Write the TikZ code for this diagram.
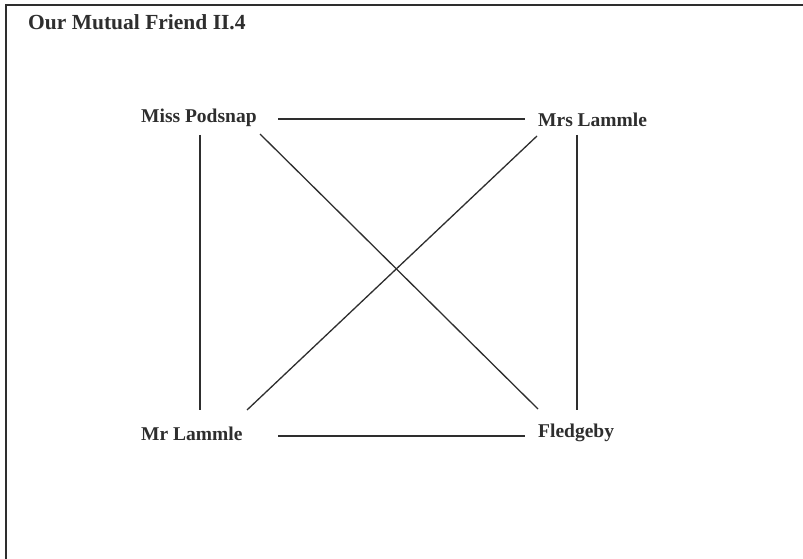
\documentclass[tikz,border=0pt]{standalone}
\usepackage{fontspec}
\setmainfont{Liberation Serif}
\usetikzlibrary{calc}
\definecolor{ink}{HTML}{2E2E2E}
\begin{document}
\begin{tikzpicture}[x=1pt,y=-1pt,
  lbl/.style={anchor=base west, inner sep=0pt, text=ink,
    font=\fontsize{19.5}{22}\selectfont\bfseries},
  ttl/.style={lbl, font=\fontsize{21.5}{24}\selectfont\bfseries},
  edge/.style={draw=ink, line width=1.3pt}]
\useasboundingbox (0,0) rectangle (803,559);
\fill[white] (0,0) rectangle (803,559);
\draw[ink, line width=2.2pt] (6,559) -- (6,5) -- (803,5);
\node[ttl] (title) at (28,30) {Our Mutual Friend II.4};
\node[lbl] (mp)  at (141,123) {Miss Podsnap};
\node[lbl] (mrs) at (538,127) {Mrs Lammle};
\node[lbl] (ml)  at (141,440) {Mr Lammle};
\node[lbl] (fl)  at (538,437) {Fledgeby};
\draw[edge] ($(mp.base west)+(137,-4)$) -- ($(mrs.base west)+(-13,-8)$);
\draw[edge] ($(ml.base west)+(137,-4)$) -- ($(fl.base west)+(-13,-1)$);
\draw[edge] ($(mp.base west)+(59,12)$) -- ($(ml.base west)+(59,-30)$);
\draw[edge] ($(mrs.base west)+(39,8)$) -- ($(fl.base west)+(39,-27)$);
\draw[edge] ($(mp.base west)+(119,11)$) -- ($(fl.base west)+(0,-28)$);
\draw[edge] ($(mrs.base west)+(-1,9)$) -- ($(ml.base west)+(106,-30)$);
\end{tikzpicture}
\end{document}
